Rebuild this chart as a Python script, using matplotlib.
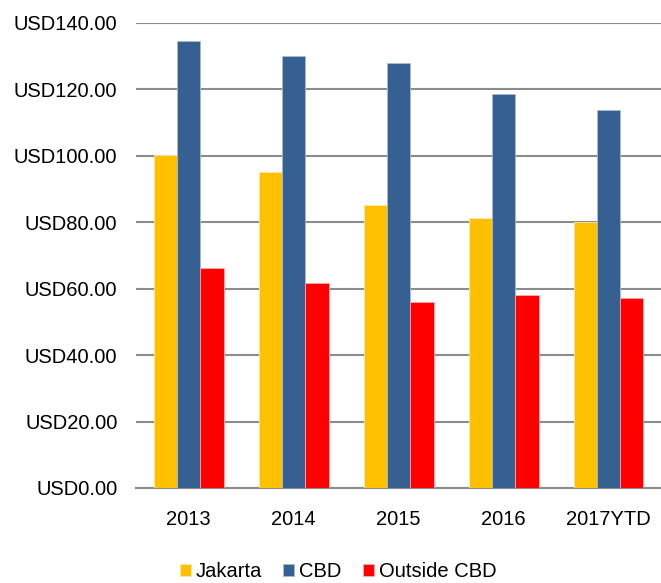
import numpy as np
import matplotlib.pyplot as plt

plt.rcParams['font.family'] = ['Liberation Sans', 'DejaVu Sans']

years = ["2013", "2014", "2015", "2016", "2017YTD"]
jakarta = [100.3, 95.0, 85.3, 81.3, 79.9]
cbd = [134.5, 130.0, 127.8, 118.7, 113.6]
outside_cbd = [66.2, 61.6, 56.0, 58.1, 57.1]

fig = plt.figure(figsize=(6.61, 5.83), dpi=100)
ax = fig.add_axes([0.206, 0.163, 0.794, 0.798])

x = np.arange(len(years))
w = 0.222
ax.bar(x - w, jakarta, w, color="#FFC000", edgecolor="#FFE9A8", linewidth=0.6, label="Jakarta", zorder=3)
ax.bar(x, cbd, w, color="#376092", edgecolor="#A9BCD6", linewidth=0.6, label="CBD", zorder=3)
ax.bar(x + w, outside_cbd, w, color="#FF0000", edgecolor="#FFA8A8", linewidth=0.6, label="Outside CBD", zorder=3)

ax.set_xlim(-0.5, len(years) - 0.5)
ax.set_ylim(0, 140)
ax.set_yticks(np.arange(0, 141, 20))
ax.set_yticklabels([f"USD{v:.2f}" for v in np.arange(0, 141, 20)])
ax.set_xticks(x)
ax.set_xticklabels(years)
ax.yaxis.grid(True, color="#8C8C8C", linewidth=1.5, zorder=0)
ax.set_axisbelow(True)
for s in ["left", "right", "top"]:
    ax.spines[s].set_visible(False)
ax.spines["bottom"].set_color("#8C8C8C")
ax.spines["bottom"].set_linewidth(1.5)
ax.tick_params(axis="both", length=0, labelsize=14.5)
ax.tick_params(axis="y", pad=13.5)
ax.tick_params(axis="x", pad=16)

ax.legend(loc="center", bbox_to_anchor=(0.385, -0.18), ncol=3, frameon=False,
          fontsize=14.5, handlelength=0.55, handleheight=0.55, handletextpad=0.25,
          columnspacing=1.05, borderpad=0)

fig.savefig("out.png", dpi=100)
